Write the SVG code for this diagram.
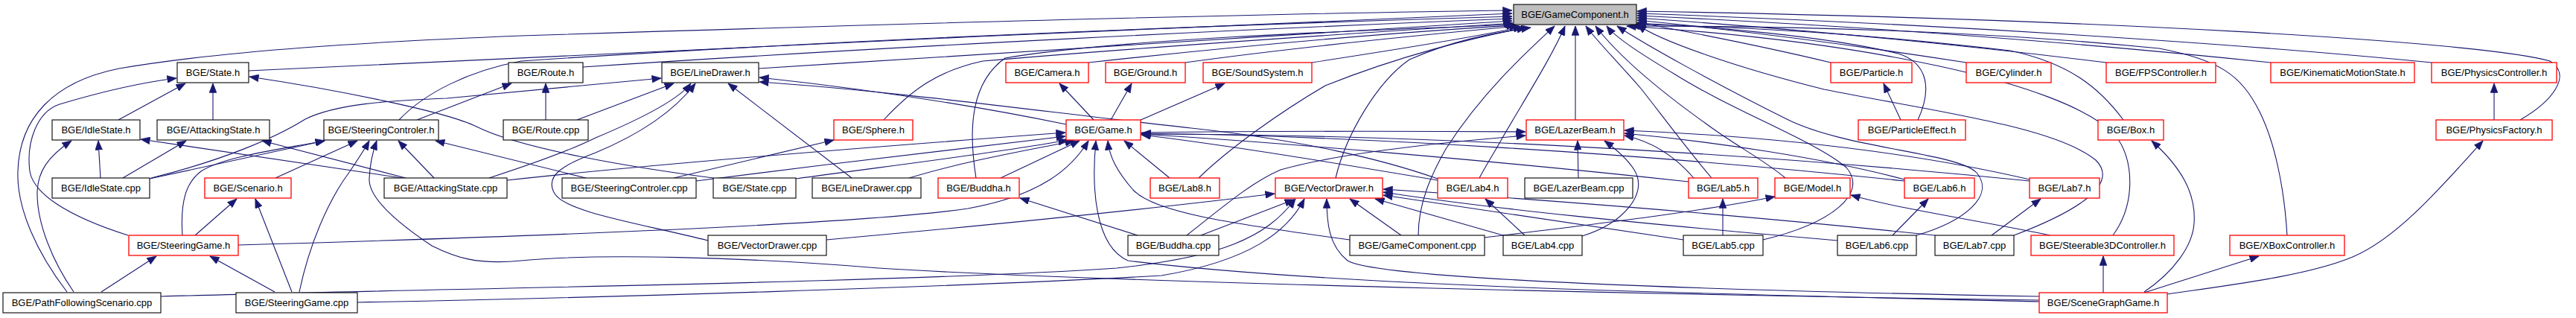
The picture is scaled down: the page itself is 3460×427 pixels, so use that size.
<svg xmlns="http://www.w3.org/2000/svg" width="3460" height="427" viewBox="0 0 3460 427">
<style>
rect{fill:#fff;stroke:#000;stroke-width:1.1}
.r rect{stroke:#f00;stroke-width:1.3}
.root rect{fill:#bfbfbf}
text{font-family:"Liberation Sans",Arial,sans-serif;font-size:13px;fill:#000;text-anchor:middle}
#edges path{fill:none;stroke:#191970;stroke-width:1.1;marker-end:url(#a)}
</style>
<defs>
<marker id="a" markerWidth="13" markerHeight="10" refX="12.5" refY="5" orient="auto" markerUnits="userSpaceOnUse">
<path d="M0,0 L13,5 L0,10 z" fill="#191970" stroke="#191970" stroke-width="0.5"/>
</marker>
</defs>
<rect x="0" y="0" width="3460" height="427" style="fill:#fff;stroke:none"/>
<g id="edges">
<path d="M90,392 C50,340 22,280 24,230 C26,160 70,110 160,92 C300,68 500,56 700,48 C1200,32 1700,18 2031,14"/>
<path d="M334,95 C800,72 1500,40 2031,18"/>
<path d="M536,161 C570,125 630,95 700,82 C1100,55 1600,35 2031,22"/>
<path d="M783,90 C1200,62 1700,38 2031,25"/>
<path d="M1019,92 C1400,68 1800,42 2031,28"/>
<path d="M1187,161 C1225,120 1260,95 1320,82 C1600,58 1900,40 2032,31"/>
<path d="M1311,239 C1300,170 1305,110 1350,78 C1500,52 1850,40 2034,33"/>
<path d="M1462,84 C1700,58 1900,42 2036,34"/>
<path d="M1592,84 C1750,62 1920,46 2040,35"/>
<path d="M1762,84 C1880,66 1980,50 2045,36"/>
<path d="M1610,239 C1650,200 1720,150 1780,115 C1880,75 1980,50 2050,37"/>
<path d="M1794,239 C1808,180 1850,110 1893,80 C1950,55 2000,45 2056,37"/>
<path d="M1905,316 C1905,270 1925,230 1942,200 C1990,125 2050,70 2088,35"/>
<path d="M1987,239 C2000,215 2010,200 2018,185 C2050,130 2085,75 2102,35"/>
<path d="M2116,161 L2116,35"/>
<path d="M2299,239 C2270,205 2240,165 2205,120 C2170,80 2145,55 2130,35"/>
<path d="M2398,239 C2370,215 2330,195 2290,165 C2220,115 2170,70 2143,35"/>
<path d="M2368,322 C2460,300 2510,260 2480,225 C2440,190 2330,150 2250,100 C2200,70 2170,50 2158,35"/>
<path d="M2574,316 C2640,297 2680,262 2655,232 C2630,205 2480,200 2400,160 C2300,110 2210,60 2172,35"/>
<path d="M2705,316 C2800,280 2845,245 2815,215 C2760,170 2600,150 2450,120 C2330,90 2230,55 2199,33"/>
<path d="M2459,84 C2380,65 2280,45 2199,30"/>
<path d="M2641,84 C2500,62 2350,42 2199,27"/>
<path d="M2829,84 C2620,58 2400,38 2199,24"/>
<path d="M3050,84 C2800,58 2500,35 2199,21"/>
<path d="M3266,84 C3000,58 2600,32 2199,18"/>
<path d="M3385,161 C3430,135 3455,100 3425,82 C3330,55 2800,25 2199,15"/>
<path d="M2576,161 C2595,120 2590,85 2550,72 C2450,48 2300,36 2199,31"/>
<path d="M2852,161 C2820,118 2780,85 2700,68 C2500,45 2350,36 2199,33"/>
<path d="M3072,316 C3068,250 3055,190 3035,150 C3010,100 2980,80 2900,65 C2700,45 2450,35 2190,35"/>
<path d="M2838,316 C2868,275 2868,215 2840,180 C2770,110 2500,55 2185,35"/>
<path d="M1469,161 L1423,112"/>
<path d="M1492,161 L1520,112"/>
<path d="M1530,162 L1645,112"/>
<path d="M1432,167 C1300,140 1150,118 1020,104"/>
<path d="M1931,240 C1860,215 1750,188 1600,172 C1400,150 1200,122 1020,110"/>
<path d="M1532,178 C1700,176 1900,176 2049,177"/>
<path d="M681,242 C900,218 1200,195 1431,178"/>
<path d="M935,243 C1100,222 1300,198 1431,183"/>
<path d="M1069,240 C1200,222 1350,204 1434,188"/>
<path d="M1221,239 C1300,215 1390,200 1443,189"/>
<path d="M1344,239 L1450,189"/>
<path d="M1571,239 L1510,189"/>
<path d="M320,329 C700,318 1150,302 1300,280 C1400,262 1440,225 1462,189"/>
<path d="M2739,405 C2300,395 1800,385 1515,350 C1470,330 1466,250 1472,189"/>
<path d="M1813,322 C1650,300 1550,285 1522,255 C1500,230 1490,210 1488,189"/>
<path d="M2268,244 C2000,215 1700,190 1533,180"/>
<path d="M2558,243 C2200,205 1800,182 1533,179"/>
<path d="M2726,243 C2300,200 1850,180 1533,180"/>
<path d="M1931,242 C1800,220 1650,195 1533,181"/>
<path d="M2275,239 C2250,210 2220,190 2182,182"/>
<path d="M2558,241 C2450,212 2300,190 2182,179"/>
<path d="M2726,241 C2550,200 2350,182 2182,175"/>
<path d="M2120,239 L2119,189"/>
<path d="M2125,317 C2180,300 2215,260 2195,228 C2185,212 2170,200 2155,189"/>
<path d="M1594,316 C1640,280 1680,245 1720,228 C1800,205 1950,190 2049,182"/>
<path d="M216,398 C600,387 1200,380 1500,360 C1640,345 1700,320 1740,267"/>
<path d="M480,406 C800,400 1300,385 1560,370 C1680,350 1730,310 1752,267"/>
<path d="M1613,316 L1738,268"/>
<path d="M1110,322 C1300,305 1550,280 1712,260"/>
<path d="M1882,316 L1813,267"/>
<path d="M2019,316 L1847,267"/>
<path d="M2261,322 L1858,262"/>
<path d="M2468,323 C2200,300 2000,280 1858,258"/>
<path d="M2599,316 C2350,290 2100,270 1858,254"/>
<path d="M2739,398 C2300,390 1850,375 1810,350 C1785,330 1782,300 1782,267"/>
<path d="M159,161 L249,112"/>
<path d="M286,161 L286,112"/>
<path d="M172,316 C90,290 45,260 40,230 C35,190 50,150 80,140 C130,125 180,112 237,105"/>
<path d="M958,239 C850,225 700,200 640,170 C600,150 450,120 335,103"/>
<path d="M135,239 L132,189"/>
<path d="M165,239 L250,189"/>
<path d="M201,240 L436,189"/>
<path d="M203,239 C300,215 370,185 410,160 C450,140 520,135 600,132 L888,105"/>
<path d="M540,239 L189,187"/>
<path d="M545,239 L352,189"/>
<path d="M583,239 L535,189"/>
<path d="M657,239 C700,225 760,205 800,185 C860,160 910,135 928,112"/>
<path d="M99,392 C70,350 50,300 50,260 C50,230 65,210 96,189"/>
<path d="M136,392 L210,344"/>
<path d="M369,392 L282,344"/>
<path d="M392,392 L343,267"/>
<path d="M402,392 C415,330 440,270 470,230 C480,215 490,200 496,189"/>
<path d="M2739,403 C2300,397 1500,380 1180,360 C1000,345 800,340 700,350 C640,356 610,345 580,330 C520,290 495,260 496,240 C497,215 502,200 506,189"/>
<path d="M262,316 L318,267"/>
<path d="M245,316 C242,270 250,245 270,230 C300,210 380,200 436,189"/>
<path d="M370,239 L480,189"/>
<path d="M787,239 L585,189"/>
<path d="M905,239 L1120,188"/>
<path d="M560,161 L687,112"/>
<path d="M733,161 L733,112"/>
<path d="M775,161 L905,112"/>
<path d="M951,323 C860,300 760,285 745,260 C730,235 760,220 800,205 C860,180 905,150 934,112"/>
<path d="M1144,239 L978,112"/>
<path d="M1528,316 L1370,266"/>
<path d="M2048,316 L1995,267"/>
<path d="M2314,316 L2314,267"/>
<path d="M2542,316 L2590,267"/>
<path d="M2675,316 L2741,267"/>
<path d="M1994,319 C2150,300 2280,285 2384,264"/>
<path d="M2754,316 C2650,295 2550,280 2486,262"/>
<path d="M2825,393 L2825,344"/>
<path d="M2880,393 L3034,344"/>
<path d="M2911,395 C3000,382 3100,370 3160,345 C3220,320 3280,250 3335,189"/>
<path d="M2880,392 C2920,365 2945,330 2947,300 C2950,260 2930,225 2890,189"/>
<path d="M2553,161 L2530,112"/>
<path d="M3350,161 L3350,112"/>
</g>
<g id="gamecomponent_h" class="root"><rect x="2033" y="6" width="165" height="27"/><text x="2115.5" y="24">BGE/GameComponent.h</text></g>
<g id="state_h"><rect x="238" y="84" width="96" height="27"/><text x="286" y="102">BGE/State.h</text></g>
<g id="route_h"><rect x="683" y="84" width="100" height="27"/><text x="733" y="102">BGE/Route.h</text></g>
<g id="linedrawer_h"><rect x="889" y="84" width="130" height="27"/><text x="954" y="102">BGE/LineDrawer.h</text></g>
<g id="camera_h" class="r"><rect x="1351" y="84" width="111" height="27"/><text x="1406.5" y="102">BGE/Camera.h</text></g>
<g id="ground_h" class="r"><rect x="1485" y="84" width="107" height="27"/><text x="1538.5" y="102">BGE/Ground.h</text></g>
<g id="soundsystem_h" class="r"><rect x="1616" y="84" width="146" height="27"/><text x="1689" y="102">BGE/SoundSystem.h</text></g>
<g id="particle_h" class="r"><rect x="2459" y="84" width="109" height="27"/><text x="2513.5" y="102">BGE/Particle.h</text></g>
<g id="cylinder_h" class="r"><rect x="2641" y="84" width="114" height="27"/><text x="2698" y="102">BGE/Cylinder.h</text></g>
<g id="fpscontroller_h" class="r"><rect x="2829" y="84" width="147" height="27"/><text x="2902.5" y="102">BGE/FPSController.h</text></g>
<g id="kinematicmotionstate_h" class="r"><rect x="3050" y="84" width="193" height="27"/><text x="3146.5" y="102">BGE/KinematicMotionState.h</text></g>
<g id="physicscontroller_h" class="r"><rect x="3266" y="84" width="168" height="27"/><text x="3350" y="102">BGE/PhysicsController.h</text></g>
<g id="idlestate_h"><rect x="70" y="161" width="118" height="27"/><text x="129" y="179">BGE/IdleState.h</text></g>
<g id="attackingstate_h"><rect x="211" y="161" width="151" height="27"/><text x="286.5" y="179">BGE/AttackingState.h</text></g>
<g id="steeringcontroler_h"><rect x="435" y="161" width="154" height="27"/><text x="512" y="179">BGE/SteeringControler.h</text></g>
<g id="route_cpp"><rect x="676" y="161" width="114" height="27"/><text x="733" y="179">BGE/Route.cpp</text></g>
<g id="sphere_h" class="r"><rect x="1120" y="161" width="106" height="27"/><text x="1173" y="179">BGE/Sphere.h</text></g>
<g id="game_h" class="r"><rect x="1432" y="161" width="100" height="27"/><text x="1482" y="179">BGE/Game.h</text></g>
<g id="lazerbeam_h" class="r"><rect x="2050" y="161" width="131" height="27"/><text x="2115.5" y="179">BGE/LazerBeam.h</text></g>
<g id="particleeffect_h" class="r"><rect x="2496" y="161" width="144" height="27"/><text x="2568" y="179">BGE/ParticleEffect.h</text></g>
<g id="box_h" class="r"><rect x="2818" y="161" width="88" height="27"/><text x="2862" y="179">BGE/Box.h</text></g>
<g id="physicsfactory_h" class="r"><rect x="3272" y="161" width="156" height="27"/><text x="3350" y="179">BGE/PhysicsFactory.h</text></g>
<g id="idlestate_cpp"><rect x="70" y="239" width="131" height="27"/><text x="135.5" y="257">BGE/IdleState.cpp</text></g>
<g id="scenario_h" class="r"><rect x="275" y="239" width="116" height="27"/><text x="333" y="257">BGE/Scenario.h</text></g>
<g id="attackingstate_cpp"><rect x="516" y="239" width="165" height="27"/><text x="598.5" y="257">BGE/AttackingState.cpp</text></g>
<g id="steeringcontroler_cpp"><rect x="755" y="239" width="180" height="27"/><text x="845" y="257">BGE/SteeringControler.cpp</text></g>
<g id="state_cpp"><rect x="958" y="239" width="111" height="27"/><text x="1013.5" y="257">BGE/State.cpp</text></g>
<g id="linedrawer_cpp"><rect x="1091" y="239" width="146" height="27"/><text x="1164" y="257">BGE/LineDrawer.cpp</text></g>
<g id="buddha_h" class="r"><rect x="1260" y="239" width="109" height="27"/><text x="1314.5" y="257">BGE/Buddha.h</text></g>
<g id="lab8_h" class="r"><rect x="1545" y="239" width="93" height="27"/><text x="1591.5" y="257">BGE/Lab8.h</text></g>
<g id="vectordrawer_h" class="r"><rect x="1713" y="239" width="144" height="27"/><text x="1785" y="257">BGE/VectorDrawer.h</text></g>
<g id="lab4_h" class="r"><rect x="1931" y="239" width="94" height="27"/><text x="1978" y="257">BGE/Lab4.h</text></g>
<g id="lazerbeam_cpp"><rect x="2048" y="239" width="145" height="27"/><text x="2120.5" y="257">BGE/LazerBeam.cpp</text></g>
<g id="lab5_h" class="r"><rect x="2268" y="239" width="93" height="27"/><text x="2314.5" y="257">BGE/Lab5.h</text></g>
<g id="model_h" class="r"><rect x="2384" y="239" width="101" height="27"/><text x="2434.5" y="257">BGE/Model.h</text></g>
<g id="lab6_h" class="r"><rect x="2558" y="239" width="94" height="27"/><text x="2605" y="257">BGE/Lab6.h</text></g>
<g id="lab7_h" class="r"><rect x="2726" y="239" width="94" height="27"/><text x="2773" y="257">BGE/Lab7.h</text></g>
<g id="steeringgame_h" class="r"><rect x="173" y="316" width="147" height="27"/><text x="246.5" y="334">BGE/SteeringGame.h</text></g>
<g id="vectordrawer_cpp"><rect x="951" y="316" width="159" height="27"/><text x="1030.5" y="334">BGE/VectorDrawer.cpp</text></g>
<g id="buddha_cpp"><rect x="1515" y="316" width="122" height="27"/><text x="1576" y="334">BGE/Buddha.cpp</text></g>
<g id="gamecomponent_cpp"><rect x="1813" y="316" width="181" height="27"/><text x="1903.5" y="334">BGE/GameComponent.cpp</text></g>
<g id="lab4_cpp"><rect x="2019" y="316" width="106" height="27"/><text x="2072" y="334">BGE/Lab4.cpp</text></g>
<g id="lab5_cpp"><rect x="2261" y="316" width="107" height="27"/><text x="2314.5" y="334">BGE/Lab5.cpp</text></g>
<g id="lab6_cpp"><rect x="2468" y="316" width="106" height="27"/><text x="2521" y="334">BGE/Lab6.cpp</text></g>
<g id="lab7_cpp"><rect x="2599" y="316" width="106" height="27"/><text x="2652" y="334">BGE/Lab7.cpp</text></g>
<g id="steerable3dcontroller_h" class="r"><rect x="2728" y="316" width="192" height="27"/><text x="2824" y="334">BGE/Steerable3DController.h</text></g>
<g id="xboxcontroller_h" class="r"><rect x="2995" y="316" width="154" height="27"/><text x="3072" y="334">BGE/XBoxController.h</text></g>
<g id="pathfollowingscenario_cpp"><rect x="4" y="393" width="212" height="27"/><text x="110" y="411">BGE/PathFollowingScenario.cpp</text></g>
<g id="steeringgame_cpp"><rect x="317" y="393" width="163" height="27"/><text x="398.5" y="411">BGE/SteeringGame.cpp</text></g>
<g id="scenegraphgame_h" class="r"><rect x="2739" y="393" width="172" height="27"/><text x="2825" y="411">BGE/SceneGraphGame.h</text></g>
</svg>
